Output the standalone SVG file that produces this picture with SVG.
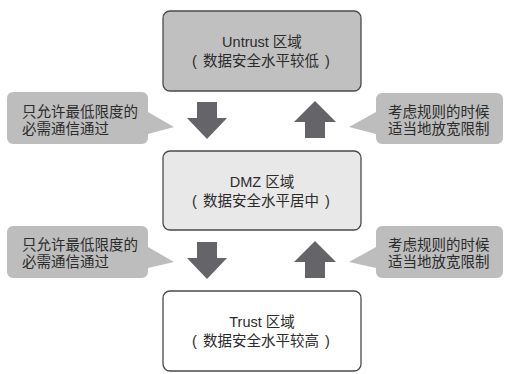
<svg xmlns="http://www.w3.org/2000/svg" width="516" height="374" viewBox="0 0 516 374">
<style>
.zone{stroke:#4a4a4a;stroke-width:1.3}
.t{font-family:"Liberation Sans","Noto Sans CJK SC",sans-serif;font-size:14.5px;fill:#2b2b2b}
.c{text-anchor:middle}
.callout{fill:#bdbdbd}
.arrow{fill:#646469}
</style>
<rect width="516" height="374" fill="#ffffff"/>
<g id="untrust">
<rect class="zone" x="163" y="11" width="198" height="80" rx="7" fill="#c0c0c0"/>
<text class="t c" x="262" y="47">Untrust 区域</text>
<text class="t c" y="66"><tspan x="194.5">(</tspan><tspan x="261">数据安全水平较低</tspan><tspan x="327.5">)</tspan></text>
</g>
<g id="dmz">
<rect class="zone" x="163" y="151" width="198" height="79" rx="7" fill="#e8e8e8"/>
<text class="t c" x="262" y="187">DMZ 区域</text>
<text class="t c" y="206"><tspan x="194.5">(</tspan><tspan x="261">数据安全水平居中</tspan><tspan x="327.5">)</tspan></text>
</g>
<g id="trust">
<rect class="zone" x="163" y="291" width="198" height="80" rx="7" fill="#ffffff"/>
<text class="t c" x="262" y="327">Trust 区域</text>
<text class="t c" y="346"><tspan x="194.5">(</tspan><tspan x="261">数据安全水平较高</tspan><tspan x="327.5">)</tspan></text>
</g>
<g id="callout-left-1">
<path class="callout" d="M13,92 H142 A6,6 0 0 1 148,98 V112 L174,127 L148,134 V138 A6,6 0 0 1 142,144 H13 A6,6 0 0 1 7,138 V98 A6,6 0 0 1 13,92 Z"/>
<text class="t" x="22" y="117">只允许最低限度的</text>
<text class="t" x="22" y="134">必需通信通过</text>
</g>
<g id="callout-right-1">
<path class="callout" d="M382,93 H497 A6,6 0 0 1 503,99 V138 A6,6 0 0 1 497,144 H382 A6,6 0 0 1 376,138 V134 L349,127 L376,112 V99 A6,6 0 0 1 382,93 Z"/>
<text class="t" x="388" y="117">考虑规则的时候</text>
<text class="t" x="388" y="134">适当地放宽限制</text>
</g>
<g id="callout-left-2">
<path class="callout" d="M13,226 H142 A6,6 0 0 1 148,232 V247 L174,262 L148,268 V272 A6,6 0 0 1 142,278 H13 A6,6 0 0 1 7,272 V232 A6,6 0 0 1 13,226 Z"/>
<text class="t" x="22" y="250">只允许最低限度的</text>
<text class="t" x="22" y="267">必需通信通过</text>
</g>
<g id="callout-right-2">
<path class="callout" d="M382,226 H497 A6,6 0 0 1 503,232 V272 A6,6 0 0 1 497,278 H382 A6,6 0 0 1 376,272 V268 L349,262 L376,247 V232 A6,6 0 0 1 382,226 Z"/>
<text class="t" x="388" y="250">考虑规则的时候</text>
<text class="t" x="388" y="267">适当地放宽限制</text>
</g>
<g id="connectors">
<polygon class="arrow" points="197,102 217,102 217,118 227,118 207,139 187,118 197,118"/>
<polygon class="arrow" points="315,101 336,122 325,122 325,138 305,138 305,122 294,122"/>
<polygon class="arrow" points="197,242 217,242 217,258 227,258 207,279 187,258 197,258"/>
<polygon class="arrow" points="315,241 336,262 325,262 325,278 305,278 305,262 294,262"/>
</g>
</svg>
